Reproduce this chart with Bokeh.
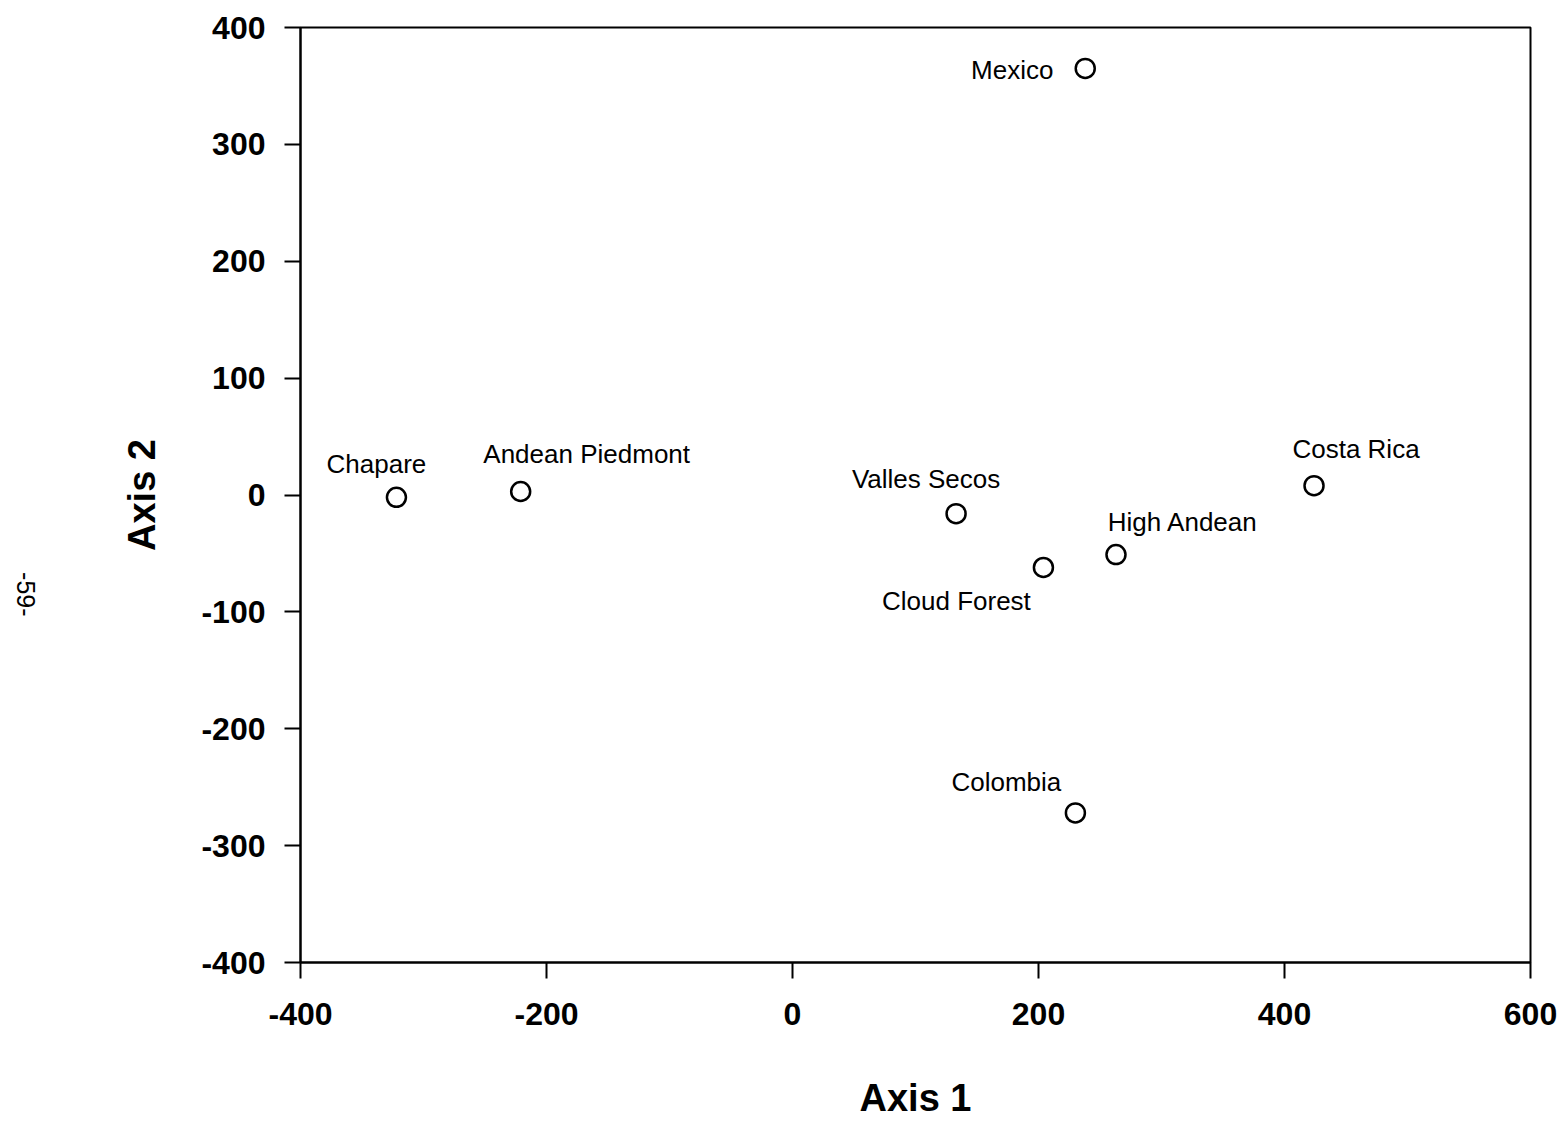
import math
from bokeh.plotting import figure
from bokeh.models import Range1d, FixedTicker, ColumnDataSource
from bokeh.layouts import row
from bokeh.core.properties import value
from bokeh.embed import file_html
from bokeh.resources import INLINE

# ---- data ----
sites = ["Mexico", "Chapare", "Andean Piedmont", "Valles Secos",
         "Cloud Forest", "High Andean", "Costa Rica", "Colombia"]
axis1 = [238, -322, -221, 133, 204, 263, 424, 230]
axis2 = [365, -2, 3, -16, -62, -51, 8, -272]

x_ticks = [-400, -200, 0, 200, 400, 600]
y_ticks = [-400, -300, -200, -100, 0, 100, 200, 300, 400]

page_number = "-59-"

# label placement (screen-pixel offsets from each point)
label_dx = [-73, -20, 66, -30, -87, 67, 42, -69]
label_dy = [2, -33, -37, -35, 34, -33, -37, -31]

FONT = "Liberation Sans"
H = 1121
TOP, BOTTOM = 27, 158

yr = Range1d(-400, 400)

# ---- main chart ----
p = figure(width=1517, height=H, output_backend="svg", toolbar_location=None,
           x_range=Range1d(-400, 600), y_range=yr)
p.min_border_left = 260
p.min_border_right = 27
p.min_border_top = TOP
p.min_border_bottom = BOTTOM
p.background_fill_color = "white"
p.border_fill_color = "white"
p.xgrid.visible = False
p.ygrid.visible = False
p.outline_line_color = "black"
p.outline_line_width = 2

for ax, ticks in ((p.xaxis[0], x_ticks), (p.yaxis[0], y_ticks)):
    ax.ticker = FixedTicker(ticks=ticks)
    ax.major_label_overrides = {t: str(t) for t in ticks}
    ax.minor_tick_line_color = None
    ax.major_tick_in = 0
    ax.major_tick_out = 16
    ax.major_tick_line_width = 2
    ax.major_tick_line_color = "black"
    ax.axis_line_width = 2
    ax.axis_line_color = "black"
    ax.major_label_text_font = FONT
    ax.major_label_text_font_style = "bold"
    ax.major_label_text_font_size = "32px"
    ax.major_label_text_color = "black"
    ax.axis_label_text_font = FONT
    ax.axis_label_text_font_style = "bold"
    ax.axis_label_text_font_size = "38px"
    ax.axis_label_text_color = "black"

p.xaxis[0].axis_label = "Axis 1"
p.yaxis[0].axis_label = "Axis 2"
p.xaxis[0].major_label_standoff = 24
p.yaxis[0].major_label_standoff = 19
p.xaxis[0].axis_label_standoff = 49
p.yaxis[0].axis_label_standoff = 35

src = ColumnDataSource(dict(x=axis1, y=axis2, name=sites, dx=label_dx, dy=label_dy))
p.scatter("x", "y", source=src, marker="circle", size=19,
          fill_color=None, line_color="black", line_width=2.5)
p.text("x", "y", text="name", source=src, x_offset="dx", y_offset="dy",
       text_align="center", text_baseline="middle",
       text_font=value(FONT), text_font_size="26px", text_color="black")

# ---- narrow strip on the left holding the scanned page number ----
m = figure(width=40, height=H, output_backend="svg", toolbar_location=None,
           x_range=Range1d(0, 40), y_range=yr)
m.min_border_left = 0
m.min_border_right = 0
m.min_border_top = TOP
m.min_border_bottom = BOTTOM
m.axis.visible = False
m.xgrid.visible = False
m.ygrid.visible = False
m.outline_line_color = None
m.background_fill_color = "white"
m.border_fill_color = "white"
m.text(x=[25], y=[-85], text=[page_number], angle=-math.pi / 2,
       text_align="center", text_baseline="middle",
       text_font=value(FONT), text_font_size="25px", text_color="black")

layout = row(m, p, spacing=0)
open("out.html", "w").write(file_html(layout, INLINE))
